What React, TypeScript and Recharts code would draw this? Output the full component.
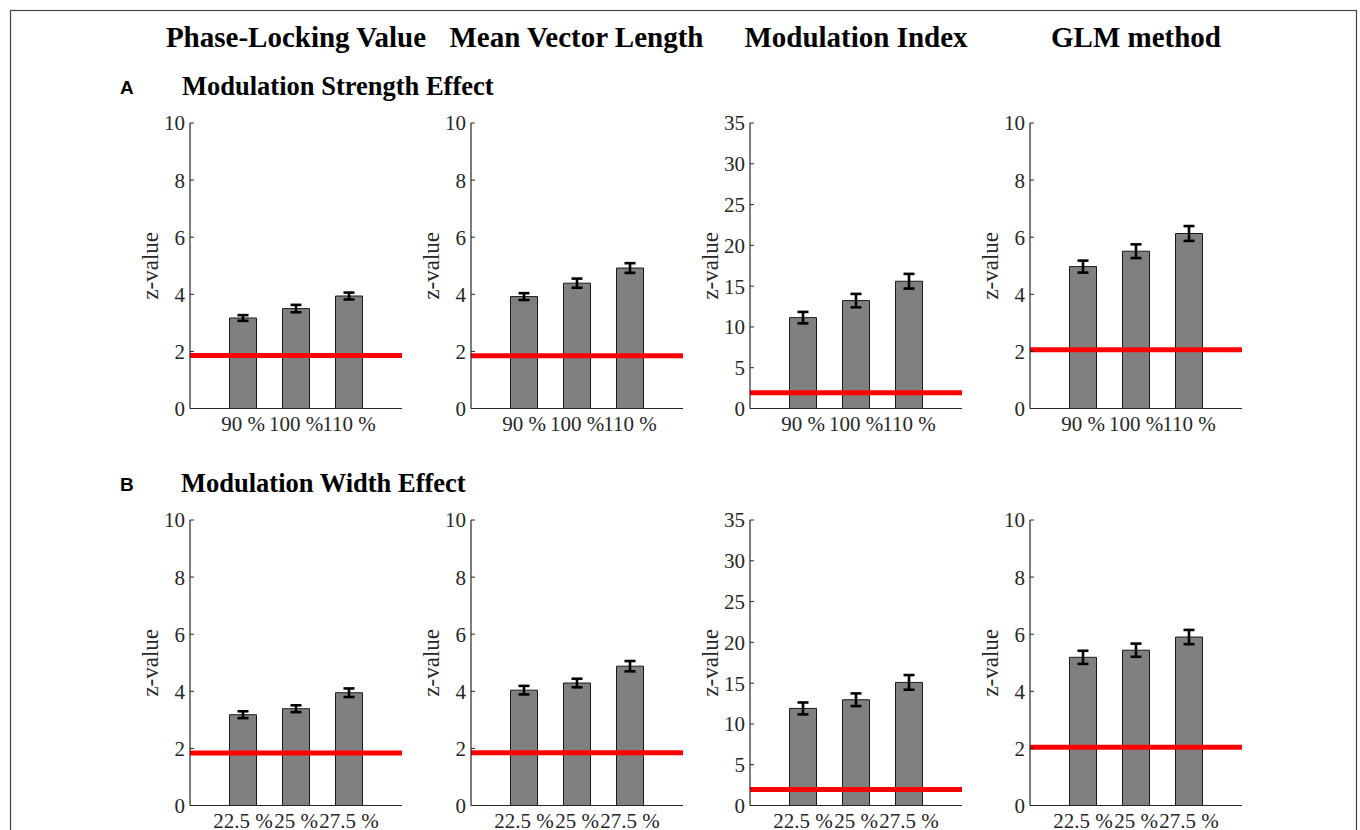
import React from "react";
import { BarChart, Bar, XAxis, YAxis, ErrorBar, ReferenceLine } from "recharts";

// categories and values
const METHODS = ["Phase-Locking Value", "Mean Vector Length", "Modulation Index", "GLM method"];
const STRENGTH_LABELS = ["90 %", "100 %", "110 %"];
const WIDTH_LABELS = ["22.5 %", "25 %", "27.5 %"];

const Y_MAX = [10, 10, 35, 10];
const Y_TICKS_10 = [0, 2, 4, 6, 8, 10];
const Y_TICKS_35 = [0, 5, 10, 15, 20, 25, 30, 35];

// A: modulation strength effect
const PLV_STRENGTH = [3.17, 3.5, 3.94];
const PLV_STRENGTH_ERR = [0.1, 0.13, 0.12];
const MVL_STRENGTH = [3.92, 4.39, 4.92];
const MVL_STRENGTH_ERR = [0.12, 0.16, 0.17];
const MI_STRENGTH = [11.14, 13.23, 15.6];
const MI_STRENGTH_ERR = [0.7, 0.82, 0.9];
const GLM_STRENGTH = [4.97, 5.51, 6.13];
const GLM_STRENGTH_ERR = [0.21, 0.24, 0.26];
const STRENGTH_THRESHOLD = [1.86, 1.85, 1.93, 2.06];

// B: modulation width effect
const PLV_WIDTH = [3.18, 3.39, 3.95];
const PLV_WIDTH_ERR = [0.12, 0.12, 0.15];
const MVL_WIDTH = [4.04, 4.29, 4.88];
const MVL_WIDTH_ERR = [0.15, 0.15, 0.18];
const MI_WIDTH = [11.9, 12.96, 15.09];
const MI_WIDTH_ERR = [0.73, 0.78, 0.9];
const GLM_WIDTH = [5.19, 5.44, 5.9];
const GLM_WIDTH_ERR = [0.23, 0.23, 0.25];
const WIDTH_THRESHOLD = [1.84, 1.85, 1.96, 2.04];

// layout (px)
const COL_X = [190, 470.5, 750, 1030];
const ROW_TOP = [122.5, 519.5];
const PLOT_W = 212;
const PLOT_H = 285.5;
const Y_AXIS_W = 60;
const X_AXIS_H = 40;
const M_TOP = 20;
const M_RIGHT = 10;

const SERIF = "'Liberation Serif', 'Times New Roman', serif";
const AXIS = "#262626";
const tickStyle = { fill: AXIS, fontFamily: SERIF, fontSize: 21, style: { fontFamily: SERIF } };

const toRows = (vals: number[], errs: number[]) =>
  vals.map((v, i) => ({ x: i + 1, z: v, err: errs[i] }));

const ZLabel = ({ viewBox }: any) => {
  const cx = viewBox.x + viewBox.width - 40;
  const cy = viewBox.y + viewBox.height / 2;
  return (
    <text
      x={cx}
      y={cy}
      transform={`rotate(-90 ${cx} ${cy})`}
      textAnchor="middle"
      dominantBaseline="central"
      fontFamily={SERIF}
      fontSize={23}
      fill={AXIS}
    >
      z-value
    </text>
  );
};

function Panel({
  vals,
  errs,
  labels,
  threshold,
  yMax,
  left,
  top,
}: {
  vals: number[];
  errs: number[];
  labels: string[];
  threshold: number;
  yMax: number;
  left: number;
  top: number;
}) {
  const data = toRows(vals, errs);
  return (
    <div style={{ position: "absolute", left: left - Y_AXIS_W, top: top - M_TOP }}>
      <BarChart
        width={Y_AXIS_W + PLOT_W + M_RIGHT}
        height={M_TOP + PLOT_H + X_AXIS_H}
        data={data}
        margin={{ top: M_TOP, right: M_RIGHT, bottom: 0, left: 0 }}
      >
        <XAxis
          dataKey="x"
          type="number"
          domain={[0, 4]}
          ticks={[1, 2, 3]}
          interval={0}
          height={X_AXIS_H}
          tickFormatter={(v: number) => labels[v - 1]}
          tickLine={false}
          tickSize={0}
          tickMargin={8}
          axisLine={{ stroke: AXIS, strokeWidth: 1.2 }}
          tick={tickStyle}
        />
        <YAxis
          type="number"
          domain={[0, yMax]}
          ticks={yMax === 35 ? Y_TICKS_35 : Y_TICKS_10}
          interval={0}
          width={Y_AXIS_W}
          tickSize={-4}
          tickMargin={9}
          tickLine={{ stroke: AXIS, strokeWidth: 1 }}
          axisLine={{ stroke: AXIS, strokeWidth: 1.2 }}
          tick={tickStyle}
          label={{ content: <ZLabel /> }}
        />
        <Bar dataKey="z" barSize={27} fill="#808080" stroke="#1a1a1a" strokeWidth={1} isAnimationActive={false}>
          <ErrorBar dataKey="err" direction="y" width={5.5} stroke="#000" strokeWidth={2.6} />
        </Bar>
        <ReferenceLine y={threshold} stroke="#ff0000" strokeWidth={5} />
      </BarChart>
    </div>
  );
}

export default function App() {
  const rowA = [
    [PLV_STRENGTH, PLV_STRENGTH_ERR],
    [MVL_STRENGTH, MVL_STRENGTH_ERR],
    [MI_STRENGTH, MI_STRENGTH_ERR],
    [GLM_STRENGTH, GLM_STRENGTH_ERR],
  ];
  const rowB = [
    [PLV_WIDTH, PLV_WIDTH_ERR],
    [MVL_WIDTH, MVL_WIDTH_ERR],
    [MI_WIDTH, MI_WIDTH_ERR],
    [GLM_WIDTH, GLM_WIDTH_ERR],
  ];

  return (
    <div
      style={{
        position: "absolute",
        left: 0,
        top: 0,
        width: 1360,
        height: 830,
        background: "#fff",
        overflow: "hidden",
        fontFamily: SERIF,
      }}
    >
      <svg width={1360} height={830} style={{ position: "absolute", left: 0, top: 0 }}>
        <rect x={10.5} y={10.5} width={1346} height={860} fill="none" stroke="#444" strokeWidth={1.2} />
        {METHODS.map((m, i) => (
          <text
            key={m}
            x={COL_X[i] + PLOT_W / 2}
            y={47}
            textAnchor="middle"
            fontFamily={SERIF}
            fontWeight="bold"
            fontSize={29}
            fill="#000"
          >
            {m}
          </text>
        ))}
        <text x={120} y={94} fontFamily="'Liberation Sans', Arial, sans-serif" fontWeight="bold" fontSize={19}>
          A
        </text>
        <text x={182} y={95} fontFamily={SERIF} fontWeight="bold" fontSize={26.5}>
          Modulation Strength Effect
        </text>
        <text x={120} y={491} fontFamily="'Liberation Sans', Arial, sans-serif" fontWeight="bold" fontSize={19}>
          B
        </text>
        <text x={181} y={492} fontFamily={SERIF} fontWeight="bold" fontSize={26.5}>
          Modulation Width Effect
        </text>
      </svg>
      {rowA.map(([v, e], i) => (
        <Panel
          key={`a-${i}`}
          vals={v}
          errs={e}
          labels={STRENGTH_LABELS}
          threshold={STRENGTH_THRESHOLD[i]}
          yMax={Y_MAX[i]}
          left={COL_X[i]}
          top={ROW_TOP[0]}
        />
      ))}
      {rowB.map(([v, e], i) => (
        <Panel
          key={`b-${i}`}
          vals={v}
          errs={e}
          labels={WIDTH_LABELS}
          threshold={WIDTH_THRESHOLD[i]}
          yMax={Y_MAX[i]}
          left={COL_X[i]}
          top={ROW_TOP[1]}
        />
      ))}
    </div>
  );
}
